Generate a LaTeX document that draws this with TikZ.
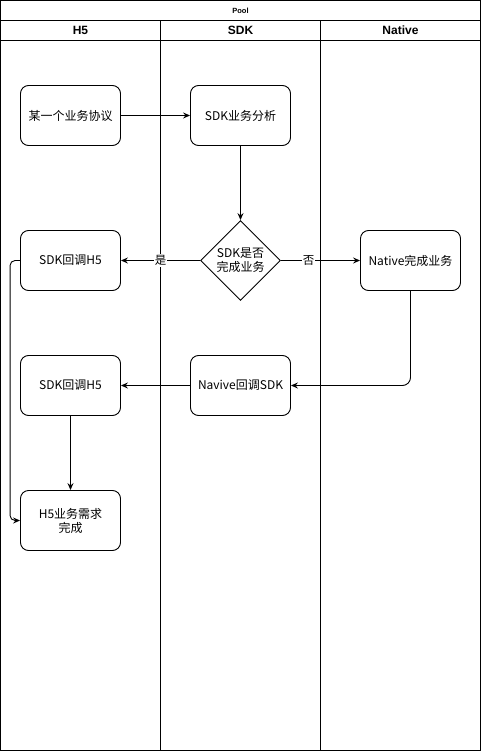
\documentclass[tikz,border=0pt]{standalone}
\usepackage{fontspec}
\setmainfont{Noto Sans CJK SC}
\newfontfamily\hdrfont{Liberation Sans}
\usetikzlibrary{shapes.geometric,arrows.meta}
\begin{document}
\begin{tikzpicture}[x=1pt,y=-1pt,
  box/.style={draw,line width=0.9pt,rounded corners=8pt,minimum width=100pt,minimum height=60pt,align=center,font=\fontsize{12}{14}\selectfont,inner sep=1pt},
  dec/.style={draw,line width=0.9pt,diamond,minimum width=80pt,minimum height=80pt,inner sep=0pt,align=center,font=\fontsize{12}{14}\selectfont},
  conn/.style={line width=0.9pt,-{Stealth[length=7pt,width=6pt,inset=2.5pt]}},
  lbl/.style={fill=white,inner sep=1pt,font=\fontsize{11.5}{13}\selectfont},
  lane/.style={line width=0.9pt}]
\useasboundingbox (0,0) rectangle (481,751);
\draw[lane] (0.5,0.5) rectangle (480.5,750.5);
\draw[lane] (0.5,20.5) -- (480.5,20.5);
\draw[lane] (0.5,40.5) -- (480.5,40.5);
\draw[lane] (160.5,20.5) -- (160.5,750.5);
\draw[lane] (320.5,20.5) -- (320.5,750.5);
\node[font=\hdrfont\bfseries\fontsize{7.5}{8}\selectfont] (pool) at (240.5,10.5) {Pool};
\node[font=\hdrfont\bfseries\fontsize{12}{14}\selectfont] (hh5) at (80.5,30.5) {H5};
\node[font=\hdrfont\bfseries\fontsize{12}{14}\selectfont] (hsdk) at (240.5,30.5) {SDK};
\node[font=\hdrfont\bfseries\fontsize{12}{14}\selectfont] (hnat) at (400.5,30.5) {Native};

\node[box] (a) at (70.5,115.5) {某一个业务协议};
\node[box] (b) at (240.5,115.5) {SDK业务分析};
\node[dec] (c) at (240.5,260.5) {SDK是否\\完成业务};
\node[box] (d) at (70.5,260.5) {SDK回调H5};
\node[box] (e) at (410.5,260.5) {Native完成业务};
\node[box] (f) at (70.5,385.5) {SDK回调H5};
\node[box] (g) at (240.5,385.5) {Navive回调SDK};
\node[box] (h) at (70.5,520.5) {H5业务需求\\完成};

\draw[conn] (a) -- (b);
\draw[conn] (b) -- (c);
\draw[conn] (c) -- node[lbl,pos=0.5] {是} (d);
\draw[conn] (c) -- node[lbl,pos=0.35] {否} (e);
\draw[conn,rounded corners=8pt] (e.south) |- (g.east);
\draw[conn] (g) -- (f);
\draw[conn] (f) -- (h);
\draw[conn,rounded corners=5pt] (d.west) -- ++(-10,0) |- (h.west);
\end{tikzpicture}
\end{document}
